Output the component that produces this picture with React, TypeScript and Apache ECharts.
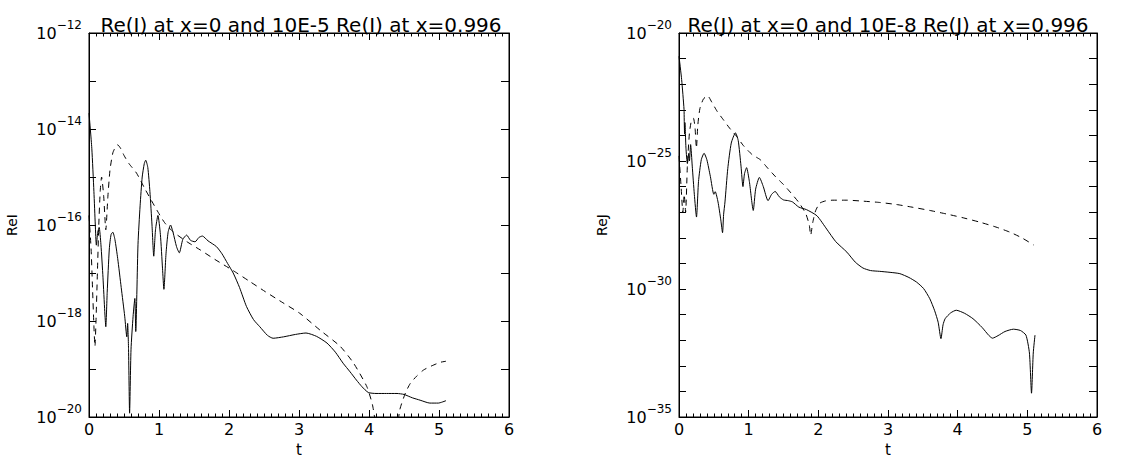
import React, { useEffect, useRef } from "react";
import * as echarts from "echarts";

// ---------- data ----------
const leftTitle = "Re(I) at x=0 and 10E-5 Re(I) at x=0.996";
const rightTitle = "Re(J) at x=0 and 10E-8 Re(J) at x=0.996";
const xTicks = [0, 1, 2, 3, 4, 5, 6];
const leftYLabelExps = [-20, -18, -16, -14, -12];
const rightYLabelExps = [-35, -30, -25, -20];

// Re(I) at x=0 (solid)
const leftSolid: [number, number][] = [
  [0.0, 2.14e-14], [0.04, 3.98e-15], [0.07, 5.01e-16], [0.09, 1.0e-16], [0.105, 3.8e-17],
  [0.125, 7.08e-17], [0.145, 8.91e-17], [0.17, 3.98e-17], [0.2, 7.94e-18], [0.225, 1.58e-18],
  [0.24, 7.59e-19], [0.26, 3.98e-18], [0.29, 3.16e-17], [0.315, 6.31e-17], [0.34, 7.08e-17],
  [0.37, 5.01e-17], [0.41, 2.0e-17], [0.46, 5.01e-18], [0.51, 1.26e-18], [0.54, 4.68e-19],
  [0.552, 8.91e-19], [0.565, 2.51e-19], [0.58, 1.2e-20], [0.6, 2.51e-19], [0.63, 1.26e-18],
  [0.655, 2.95e-18], [0.668, 6.03e-19], [0.7, 3.98e-17], [0.73, 2.51e-16], [0.76, 1.0e-15],
  [0.79, 1.91e-15], [0.81, 2.24e-15], [0.84, 1.58e-15], [0.87, 5.01e-16], [0.9, 1.0e-16],
  [0.925, 2.24e-17], [0.95, 7.94e-17], [0.985, 1.58e-16], [1.02, 6.31e-17], [1.05, 1.26e-17],
  [1.07, 4.57e-18], [1.1, 2.51e-17], [1.13, 7.08e-17], [1.165, 1.0e-16], [1.2, 7.08e-17],
  [1.25, 3.55e-17], [1.29, 2.63e-17], [1.34, 5.01e-17], [1.395, 6.17e-17], [1.45, 4.79e-17],
  [1.515, 4.47e-17], [1.57, 5.5e-17], [1.62, 5.89e-17], [1.7, 4.68e-17], [1.82, 3.55e-17],
  [1.9, 2.51e-17], [1.98, 1.58e-17], [2.06, 1.0e-17], [2.15, 5.01e-18], [2.25, 2.0e-18],
  [2.35, 1.07e-18], [2.44, 7.59e-19], [2.55, 5.01e-19], [2.63, 4.37e-19], [2.78, 4.68e-19],
  [2.95, 5.25e-19], [3.1, 5.62e-19], [3.25, 4.79e-19], [3.4, 3.47e-19], [3.52, 2.24e-19],
  [3.63, 1.32e-19], [3.73, 8.71e-20], [3.82, 5.89e-20], [3.9, 4.27e-20], [3.99, 3.24e-20],
  [4.1, 3.09e-20], [4.25, 3.09e-20], [4.4, 3.09e-20], [4.5, 2.95e-20], [4.62, 2.51e-20],
  [4.73, 2.24e-20], [4.87, 1.95e-20], [4.99, 1.95e-20], [5.1, 2.19e-20],
];

// 10E-5 Re(I) at x=0.996 (dashed)
const leftDashed: [number, number][] = [
  [0.0, 1.58e-16], [0.03, 3.16e-17], [0.05, 5.01e-18], [0.07, 7.94e-19], [0.085, 2.95e-19],
  [0.1, 1.0e-18], [0.12, 1.0e-17], [0.14, 1.0e-16], [0.16, 5.01e-16], [0.18, 1.0e-15],
  [0.21, 3.98e-16], [0.24, 7.94e-17], [0.27, 3.98e-16], [0.3, 1.41e-15], [0.34, 3.16e-15],
  [0.38, 4.27e-15], [0.41, 4.68e-15], [0.45, 3.98e-15], [0.5, 2.82e-15], [0.57, 1.91e-15],
  [0.68, 1.2e-15], [0.8, 5.62e-16], [0.97, 2.04e-16], [1.08, 1.12e-16], [1.2, 7.24e-17],
  [1.4, 4.47e-17], [1.59, 3.02e-17], [1.8, 1.91e-17], [2.06, 1.12e-17], [2.3, 6.61e-18],
  [2.52, 4.07e-18], [2.77, 2.4e-18], [3.01, 1.45e-18], [3.3, 6.46e-19], [3.59, 2.95e-19],
  [3.78, 1.32e-19], [3.97, 4.27e-20], [4.05, 1.78e-20], [4.1, 6.31e-21], [4.15, 2.51e-21],
  [4.28, 1.0e-21], [4.38, 3.16e-21], [4.44, 1.41e-20], [4.52, 3.16e-20], [4.59, 5.01e-20],
  [4.68, 7.08e-20], [4.78, 9.55e-20], [4.9, 1.17e-19], [5.02, 1.38e-19], [5.1, 1.45e-19],
];

// Re(J) at x=0 (solid)
const rightSolid: [number, number][] = [
  [0.0, 1.23e-21], [0.038, 1.51e-22], [0.072, 1.05e-23], [0.075, 3.98e-24], [0.08, 1.12e-24],
  [0.085, 3.16e-24], [0.1, 3.16e-25], [0.12, 7.94e-26], [0.14, 2.0e-25], [0.15, 1.0e-25],
  [0.167, 4.37e-25], [0.19, 6.31e-26], [0.22, 5.01e-27], [0.251, 6.46e-28], [0.28, 1.58e-26],
  [0.32, 1.12e-25], [0.36, 2.0e-25], [0.4, 1.12e-25], [0.45, 2.51e-26], [0.5, 5.01e-27],
  [0.52, 6.31e-27], [0.56, 2.51e-27], [0.6, 5.01e-28], [0.625, 1.58e-28], [0.64, 7.94e-28],
  [0.66, 2.51e-27], [0.7, 5.01e-26], [0.75, 5.01e-25], [0.81, 1.26e-24], [0.85, 6.31e-25],
  [0.89, 6.31e-26], [0.918, 1.0e-26], [0.94, 3.16e-26], [0.97, 5.5e-26], [1.01, 1.58e-26],
  [1.066, 1.17e-27], [1.1, 7.94e-27], [1.154, 2.29e-26], [1.21, 1.0e-26], [1.278, 2.82e-27],
  [1.33, 5.01e-27], [1.38, 6.46e-27], [1.44, 3.98e-27], [1.5, 3.02e-27], [1.57, 2.82e-27],
  [1.63, 2.51e-27], [1.72, 1.58e-27], [1.83, 1.26e-27], [1.98, 7.24e-28], [2.12, 2.19e-28],
  [2.25, 7.08e-29], [2.41, 2.75e-29], [2.53, 1.12e-29], [2.64, 6.61e-30], [2.75, 5.25e-30],
  [2.88, 4.9e-30], [3.03, 4.47e-30], [3.17, 3.98e-30], [3.3, 2.82e-30], [3.41, 1.86e-30],
  [3.51, 1.05e-30], [3.6, 4.17e-31], [3.67, 1.41e-31], [3.72, 5.01e-32], [3.76, 1.15e-32],
  [3.79, 3.98e-32], [3.82, 6.92e-32], [3.9, 1.17e-31], [3.98, 1.48e-31], [4.1, 1.12e-31],
  [4.22, 6.92e-32], [4.35, 3.16e-32], [4.45, 1.51e-32], [4.5, 1.2e-32], [4.58, 1.51e-32],
  [4.68, 2.19e-32], [4.8, 2.69e-32], [4.9, 2.4e-32], [4.98, 1.58e-32], [5.03, 3.16e-33],
  [5.06, 8.51e-35], [5.085, 3.16e-33], [5.11, 1.58e-32],
];

// 10E-8 Re(J) at x=0.996 (dashed)
const rightDashed: [number, number][] = [
  [0.0, 1.58e-25], [0.03, 1.0e-26], [0.055, 1.0e-27], [0.075, 5.01e-27], [0.095, 1.0e-27],
  [0.12, 6.31e-26], [0.15, 1.26e-24], [0.18, 3.98e-24], [0.207, 4.68e-24], [0.23, 2.0e-24],
  [0.25, 3.16e-25], [0.27, 2.51e-24], [0.3, 1.12e-23], [0.35, 2.63e-23], [0.41, 3.55e-23],
  [0.47, 2.0e-23], [0.55, 8.51e-24], [0.64, 3.98e-24], [0.727, 1.91e-24], [0.83, 8.91e-25],
  [0.925, 3.98e-25], [1.05, 1.78e-25], [1.167, 1.12e-25], [1.28, 5.01e-26], [1.388, 2.4e-26],
  [1.5, 1.2e-26], [1.608, 5.62e-27], [1.72, 2.4e-27], [1.82, 8.71e-28], [1.87, 3.16e-28],
  [1.89, 1.26e-28], [1.92, 3.98e-28], [1.96, 1.12e-27], [2.02, 2.24e-27], [2.1, 2.75e-27],
  [2.21, 2.95e-27], [2.41, 2.95e-27], [2.65, 2.69e-27], [2.88, 2.4e-27], [3.12, 2.0e-27],
  [3.36, 1.55e-27], [3.6, 1.17e-27], [3.84, 8.51e-28], [4.08, 6.03e-28], [4.32, 4.07e-28],
  [4.55, 2.63e-28], [4.75, 1.66e-28], [4.92, 1.0e-28], [5.09, 5.25e-29],
];

// ---------- chart ----------
const FONT = "DejaVu Sans";
const BLACK = "#000";

function expLabel(list: number[]) {
  return (v: number) => {
    const e = Math.round(v);
    if (!list.includes(e)) return "";
    return `{b|10}{s|\u2212${-e}}`;
  };
}

const rich = {
  b: { fontFamily: FONT, fontSize: 16, color: BLACK },
  s: { fontFamily: FONT, fontSize: 12, color: BLACK, padding: [0, 0, 16, 0] },
};

function xAxes(gridIndex: number) {
  const common = {
    gridIndex,
    type: "value",
    min: xTicks[0],
    max: xTicks[xTicks.length - 1],
    interval: 1,
    axisLine: { show: true, onZero: false, lineStyle: { color: BLACK, width: 1 } },
    axisTick: { show: true, inside: true, length: 7, lineStyle: { color: BLACK, width: 1 } },
    minorTick: { show: true, splitNumber: 10, length: 3.5, lineStyle: { color: BLACK, width: 1 } },
    splitLine: { show: false },
  };
  return [
    {
      ...common,
      position: "bottom",
      name: "t",
      nameLocation: "middle",
      nameGap: 27,
      nameMoveOverlap: false,
      nameTextStyle: { fontFamily: FONT, fontSize: 15, lineHeight: 12, color: BLACK },
      axisLabel: { show: true, margin: 5, fontFamily: FONT, fontSize: 16, lineHeight: 14, color: BLACK },
    },
    { ...common, position: "top", axisLabel: { show: false } },
  ];
}

function yAxes(gridIndex: number, lo: number, hi: number, labels: number[], name: string) {
  const common = {
    gridIndex,
    type: "value",
    min: lo,
    max: hi,
    interval: 1,
    axisLine: { show: true, onZero: false, lineStyle: { color: BLACK, width: 1 } },
    splitLine: { show: false },
  };
  return [
    {
      gridIndex,
      type: "log",
      min: Math.pow(10, lo),
      max: Math.pow(10, hi),
      show: false,
      position: "left",
    },
    {
      ...common,
      position: "left",
      axisTick: { show: true, inside: true, length: 7, lineStyle: { color: BLACK, width: 1 } },
      name,
      nameLocation: "middle",
      nameGap: 70,
      nameRotate: 90,
      nameMoveOverlap: false,
      nameTextStyle: { fontFamily: FONT, fontSize: 14, color: BLACK },
      axisLabel: { show: true, margin: 7, formatter: expLabel(labels), rich },
    },
    {
      ...common,
      position: "right",
      axisTick: { show: true, inside: true, length: 8, lineStyle: { color: BLACK, width: 1 } },
      axisLabel: { show: false },
    },
  ];
}

function line(data: [number, number][], g: number, dashed: boolean) {
  return {
    type: "line",
    xAxisIndex: g * 2,
    yAxisIndex: g * 3,
    data,
    symbol: "none",
    showSymbol: false,
    smooth: 0.2,
    clip: true,
    lineStyle: { color: BLACK, width: 1, type: dashed ? [6, 5] : "solid" },
  };
}

export default function App() {
  const ref = useRef<HTMLDivElement>(null);
  useEffect(() => {
    if (!ref.current) return;
    const chart = echarts.init(ref.current, null, { renderer: "svg" });
    const titleStyle = { fontFamily: FONT, fontSize: 20, fontWeight: "normal", color: BLACK };
    const gridCommon = {
      top: 33,
      height: 384,
      containLabel: false,
      outerBoundsMode: "none",
      show: true,
      borderColor: BLACK,
      borderWidth: 1,
      backgroundColor: "transparent",
    };
    const option: any = {
      animation: false,
      title: [
        { text: leftTitle, left: 296, top: 10, textAlign: "center", textStyle: titleStyle },
        { text: rightTitle, left: 883, top: 10, textAlign: "center", textStyle: titleStyle },
      ],
      grid: [
        { ...gridCommon, left: 89, width: 420 },
        { ...gridCommon, left: 679, width: 418 },
      ],
      xAxis: [...xAxes(0), ...xAxes(1)],
      yAxis: [
        ...yAxes(0, -20, -12, leftYLabelExps, "ReI"),
        ...yAxes(1, -35, -20, rightYLabelExps, "ReJ"),
      ],
      series: [
        line(leftSolid, 0, false),
        line(leftDashed, 0, true),
        line(rightSolid, 1, false),
        line(rightDashed, 1, true),
      ],
    };
    chart.setOption(option);
    return () => chart.dispose();
  }, []);
  return (
    <div
      ref={ref}
      style={{ position: "absolute", left: 0, top: 0, width: 1142, height: 459 }}
    />
  );
}
